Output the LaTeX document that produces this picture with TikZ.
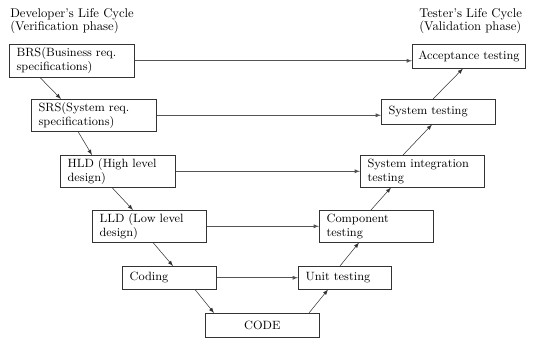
\documentclass[tikz,border=0pt]{standalone}
\usepackage{tikz}
\usepackage{xcolor}
\usetikzlibrary{arrows}

\definecolor{linegray}{HTML}{555555}
\definecolor{boxgray}{HTML}{333333}

\tikzset{
	stage/.style 2 args={draw=boxgray, anchor=north west, align=left,
		inner xsep=5.5pt, inner ysep=1pt,
		minimum width=#1, minimum height=#2, text width=#1-11pt,
		font=\fontsize{9}{10.5}\selectfont},
	flow/.style={-latex, draw=boxgray, thin},
	link/.style={-latex, draw=linegray, thin},
	title/.style={anchor=north west, align=left, inner sep=0pt,
		font=\fontsize{9.5}{9}\selectfont}
}

\begin{document}
\begin{tikzpicture}[x=0.75pt,y=-0.75pt]
		\useasboundingbox (0,0) rectangle (533,338);
		% headings
		\node[title] (devhead) at (10,8) {Developer's Life Cycle\\(Verification phase)};
		\node[title] (testhead) at (419,8) {Tester's Life Cycle\\(Validation phase)};
		% left leg
		\node[stage={93.75pt}{24.75pt}] (brs) at (9,44) {BRS(Business req.\\specifications)};
		\node[stage={93.75pt}{24pt}] (srs) at (31,99) {SRS(System req.\\specifications)};
		\node[stage={86.25pt}{24pt}] (hld) at (60,155) {HLD (High level\\design)};
		\node[stage={85.5pt}{24pt}] (lld) at (92,210) {LLD (Low level\\design)};
		\node[stage={70.5pt}{17.25pt}] (coding) at (122,266) {Coding};
		\node[stage={85.5pt}{18pt}, align=center] (code) at (205,313) {CODE};
		% right leg
		\node[stage={69.75pt}{17.25pt}] (unit) at (298,266) {Unit testing};
		\node[stage={85.5pt}{24pt}] (comp) at (319,210) {Component\\testing};
		\node[stage={93pt}{24pt}] (sit) at (360,155) {System integration\\testing};
		\node[stage={85.5pt}{18.75pt}] (syst) at (381,99) {System testing};
		\node[stage={84.75pt}{18pt}, inner xsep=4.5pt, text width=75.75pt] (acc) at (412,44) {\mbox{Acceptance testing}};
		% down the V
		\draw[flow] ([xshift=23.25pt]brs.south west) -- ([xshift=22.5pt]srs.north west);
		\draw[flow] ([xshift=35.25pt]srs.south west) -- ([xshift=24pt]hld.north west);
		\draw[flow] ([xshift=39pt]hld.south west) -- ([xshift=30.75pt]lld.north west);
		\draw[flow] ([xshift=45.75pt]lld.south west) -- ([xshift=38.25pt]coding.north west);
		\draw[flow] ([xshift=54.75pt]coding.south west) -- ([xshift=6.75pt]code.north west);
		% up the V
		\draw[flow] ([xshift=78pt]code.north west) -- ([xshift=22.5pt]unit.south west);
		\draw[flow] ([xshift=31.5pt]unit.north west) -- ([xshift=30pt]comp.south west);
		\draw[flow] ([xshift=39pt]comp.north west) -- ([xshift=23.25pt]sit.south west);
		\draw[flow] ([xshift=32.25pt]sit.north west) -- ([xshift=38.25pt]syst.south west);
		\draw[flow] ([xshift=39pt]syst.north west) -- ([xshift=38.25pt]acc.south west);
		% across
		\draw[link] (brs.east) -- (brs.east -| acc.west);
		\draw[link] (srs.east) -- (srs.east -| syst.west);
		\draw[link] (hld.east) -- (hld.east -| sit.west);
		\draw[link] (lld.east) -- (lld.east -| comp.west);
		\draw[link] (coding.east) -- (coding.east -| unit.west);
	\end{tikzpicture}
\end{document}
